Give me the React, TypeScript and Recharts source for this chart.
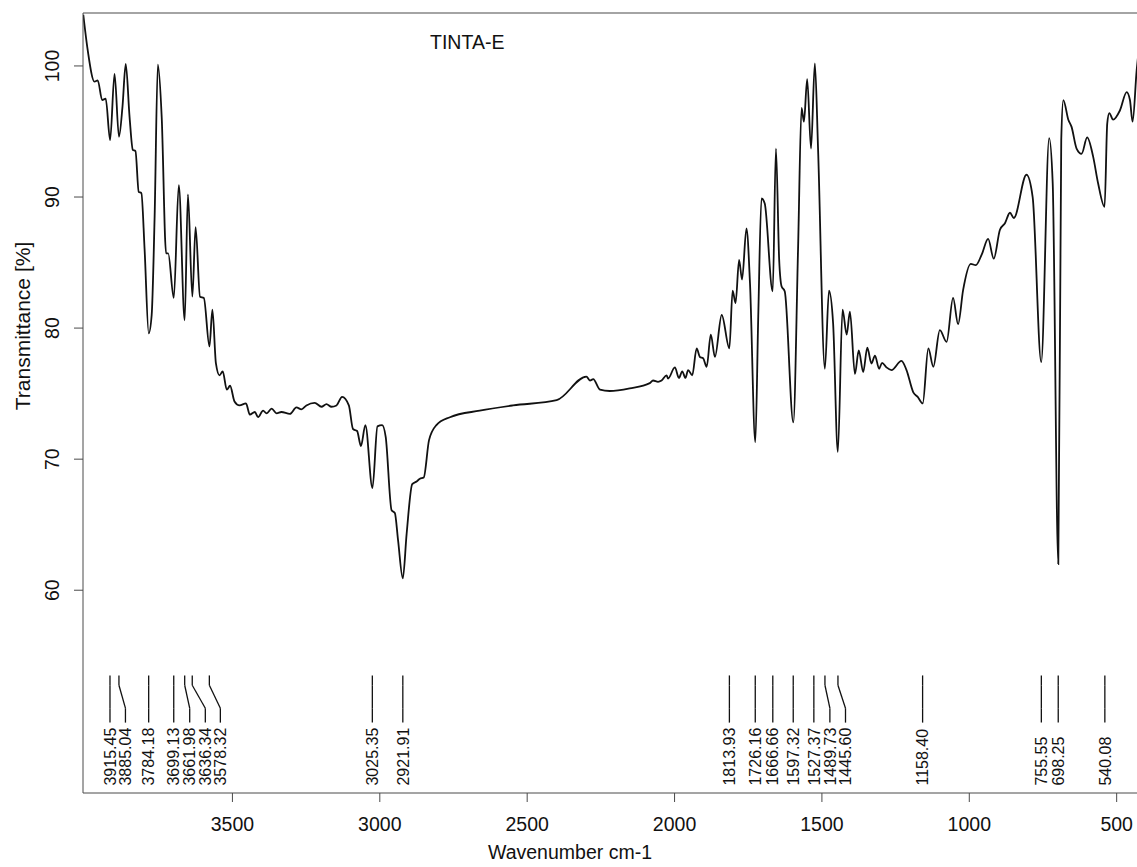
import React from 'react';
import { ComposedChart, Line, XAxis, YAxis, ReferenceLine, Scatter } from 'recharts';

// ---- spectrum (wavenumber cm-1 / transmittance %) ----
const wavenumber = [
  4006, 3991, 3968, 3957, 3942, 3930, 3915, 3900, 3885, 3873, 3862, 3849, 3838, 3829, 3818, 3809,
  3798, 3784, 3774, 3764, 3753, 3740, 3725, 3718, 3699, 3682, 3662, 3651, 3636, 3625, 3610, 3597,
  3578, 3568, 3556, 3544, 3533, 3519, 3508, 3493, 3476, 3454, 3441, 3424, 3413, 3396, 3384, 3367,
  3350, 3334, 3305, 3283, 3266, 3249, 3221, 3198, 3181, 3164, 3147, 3128, 3105, 3091, 3077, 3064,
  3049, 3025, 3008, 2992, 2980, 2960, 2949, 2938, 2922, 2909, 2890, 2875, 2864, 2851, 2833, 2808,
  2762, 2661, 2548, 2400, 2299, 2287, 2276, 2253, 2220, 2152, 2084, 2073, 2056, 2044, 2027, 2022,
  1999, 1985, 1974, 1963, 1954, 1940, 1925, 1914, 1903, 1891, 1877, 1863, 1840, 1814, 1803, 1793,
  1781, 1771, 1756, 1744, 1726, 1716, 1705, 1694, 1667, 1656, 1645, 1637, 1626, 1597, 1581, 1569,
  1561, 1550, 1537, 1524, 1513, 1490, 1476, 1462, 1446, 1430, 1416, 1405, 1388, 1375, 1360, 1346,
  1332, 1320, 1306, 1296, 1281, 1264, 1230, 1213, 1190, 1175, 1158, 1139, 1122, 1100, 1077, 1055,
  1038, 1021, 995, 978, 958, 936, 917, 896, 879, 862, 849, 806, 785, 756, 729, 717,
  698, 688, 681, 664, 653, 636, 619, 600, 580, 563, 541, 532, 525, 512, 489, 466,
  455, 446, 432, 428,
];
const transmittance = [
  103.9, 101.2, 98.8, 98.9, 97.4, 97.5, 94.35, 99.4, 94.6, 96.9, 100.15, 96.1, 93.6, 93.5, 90.4, 90.3,
  86.0, 79.6, 81.0, 88.5, 100.1, 96.1, 85.7, 85.7, 82.3, 90.9, 80.6, 90.2, 82.4, 87.7, 82.4, 82.3,
  78.6, 81.4, 77.3, 76.4, 76.7, 75.3, 75.6, 74.4, 74.1, 74.25, 73.4, 73.6, 73.2, 73.7, 73.5, 73.85,
  73.5, 73.6, 73.45, 73.95, 73.8, 74.1, 74.3, 74.0, 74.2, 74.0, 74.1, 74.75, 74.1, 72.3, 72.15, 71.0,
  72.6, 67.8, 72.5, 72.6, 71.7, 66.1, 65.9, 63.8, 60.9, 64.3, 68.1, 68.3, 68.5, 68.6, 71.45, 72.6,
  73.2, 73.7, 74.1, 74.5, 76.3, 76.0, 76.1, 75.3, 75.2, 75.4, 75.8, 76.0, 75.9, 76.0, 76.4, 76.15,
  77.0, 76.2, 76.7, 76.2, 76.8, 76.4, 78.45, 77.8, 77.7, 77.05, 79.5, 77.8, 81.0, 78.45, 82.85, 81.9,
  85.2, 83.7, 87.6, 83.4, 71.3, 80.9, 89.9, 89.5, 82.8, 93.7, 85.2, 83.2, 82.8, 72.8, 86.0, 96.8,
  95.75, 99.0, 93.7, 100.2, 93.6, 76.9, 82.85, 80.35, 70.55, 81.4, 79.5, 81.25, 76.5, 78.3, 76.65, 78.5,
  77.3, 77.9, 76.9, 77.35, 77.0, 76.8, 77.5, 76.8, 75.1, 74.75, 74.25, 78.45, 77.05, 79.85, 78.95, 82.3,
  80.3, 82.9, 84.9, 84.8, 85.6, 86.8, 85.3, 87.5, 88.0, 88.8, 88.4, 91.7, 90.0, 77.4, 94.5, 91.05,
  62.0, 94.35, 97.4, 95.9, 95.35, 93.7, 93.3, 94.55, 93.1, 91.05, 89.25, 95.6, 96.4, 95.9, 96.6, 98.0,
  97.4, 95.75, 99.7, 100.6,
];

// ---- axes ----
const xTicks = [3500, 3000, 2500, 2000, 1500, 1000, 500];
const yTicks = [60, 70, 80, 90, 100];

// ---- peak picking table ----
const peakWavenumbers = [
  3915.45, 3885.04, 3784.18, 3699.13, 3661.98, 3636.34, 3578.32, 3025.35, 2921.91,
  1813.93, 1726.16, 1666.66, 1597.32, 1527.37, 1489.73, 1445.6, 1158.4, 755.55, 698.25, 540.08,
];
// where each label text sits (shifted when labels would collide)
const peakLabelWavenumbers = [
  3915.45, 3863, 3784.18, 3699.13, 3645, 3592, 3541, 3025.35, 2921.91,
  1813.93, 1726.16, 1666.66, 1597.32, 1527.37, 1473, 1420, 1158.4, 755.55, 698.25, 540.08,
];

const titleText = 'TINTA-E';
const xAxisTitle = 'Wavenumber cm-1';
const yAxisTitle = 'Transmittance [%]';

const X_DOMAIN: [number, number] = [431, 4007];
const Y_DOMAIN: [number, number] = [44.53, 104.04];
const LEAD_TOP = 53.5;
const LEAD_K1 = 52.75;
const LEAD_K2 = 51.0;
const LEAD_BOTTOM = 49.9;
const LABEL_BASE = 45.1;

const FONT = '"Liberation Sans", Arial, Helvetica, sans-serif';
const INK = '#111';
const FRAME = '#4a4a4a';

const spectrum = wavenumber.map((w, i) => ({ w, t: transmittance[i] }));
const peakLabelPoints = peakWavenumbers.map((p, i) => ({
  w: peakLabelWavenumbers[i],
  t: LABEL_BASE,
  text: p.toFixed(2),
}));

const YTick = (props: any) => {
  const { x, y, payload } = props;
  const bx = x - 13;
  return (
    <text x={bx} y={y} transform={`rotate(-90 ${bx} ${y})`} textAnchor="middle"
      fontSize={19.5} fontFamily={FONT} fill={INK}>
      {payload.value}
    </text>
  );
};

const PeakText = (props: any) => {
  const { cx, cy, payload } = props;
  if (cx == null || cy == null) return <g />;
  const bx = cx + 5.7;
  return (
    <text x={bx} y={cy} transform={`rotate(-90 ${bx} ${cy})`} textAnchor="start"
      fontSize={16} fontFamily={FONT} fill={INK}>
      {payload.text}
    </text>
  );
};

export default function App() {
  const W = 1137;
  const H = 867;
  return (
    <div style={{ position: 'absolute', left: 0, top: 0, width: W, height: H, background: '#fff' }}>
      <ComposedChart width={W} height={H} margin={{ top: 13, right: 0, bottom: 0, left: 0 }}>
        <XAxis
          type="number"
          dataKey="w"
          domain={X_DOMAIN}
          reversed
          allowDataOverflow
          ticks={xTicks}
          tickSize={9}
          tickMargin={15}
          height={74}
          stroke={FRAME}
          tick={{ fontSize: 19.5, fontFamily: FONT, fill: INK }}
        />
        <YAxis
          type="number"
          dataKey="t"
          domain={Y_DOMAIN}
          allowDataOverflow
          ticks={yTicks}
          tickSize={9}
          width={83}
          stroke={FRAME}
          tick={<YTick />}
        />
        <ReferenceLine y={Y_DOMAIN[1]} stroke={FRAME} strokeWidth={1.2} ifOverflow="visible" />
        {peakWavenumbers.map((p, i) => (
          <ReferenceLine key={`a${i}`} segment={[{ x: p, y: LEAD_TOP }, { x: p, y: LEAD_K1 }]}
            stroke={INK} strokeWidth={1.3} />
        ))}
        {peakWavenumbers.map((p, i) => (
          <ReferenceLine key={`b${i}`} segment={[{ x: p, y: LEAD_K1 }, { x: peakLabelWavenumbers[i], y: LEAD_K2 }]}
            stroke={INK} strokeWidth={1.3} />
        ))}
        {peakWavenumbers.map((p, i) => (
          <ReferenceLine key={`c${i}`} segment={[{ x: peakLabelWavenumbers[i], y: LEAD_K2 }, { x: peakLabelWavenumbers[i], y: LEAD_BOTTOM }]}
            stroke={INK} strokeWidth={1.3} />
        ))}
        <Line
          data={spectrum}
          dataKey="t"
          type="monotone"
          stroke={INK}
          strokeWidth={1.8}
          dot={false}
          activeDot={false}
          isAnimationActive={false}
        />
        <Scatter data={peakLabelPoints} dataKey="t" shape={<PeakText />} isAnimationActive={false} />
      </ComposedChart>
      <svg width={W} height={H} style={{ position: 'absolute', left: 0, top: 0, pointerEvents: 'none' }}>
        <text x={430} y={49} fontSize={19.5} fontFamily={FONT} fill={INK}>{titleText}</text>
        <text x={570} y={859} textAnchor="middle" fontSize={19.5} fontFamily={FONT} fill={INK}>{xAxisTitle}</text>
        <text x={29.5} y={326} transform="rotate(-90 29.5 326)" textAnchor="middle" fontSize={21} fontFamily={FONT} fill={INK}>{yAxisTitle}</text>
      </svg>
    </div>
  );
}
